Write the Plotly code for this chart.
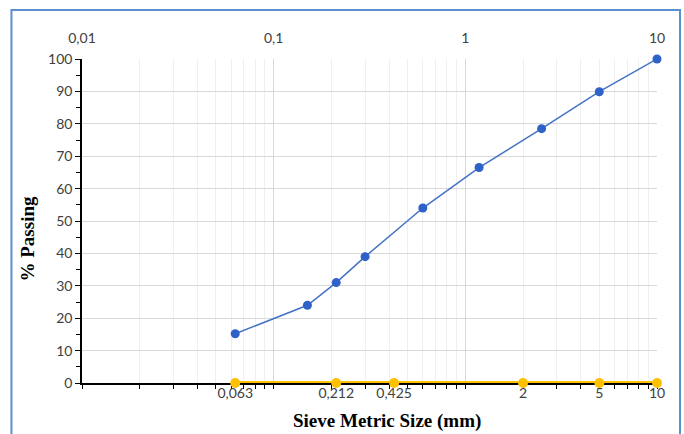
import plotly.graph_objects as go

# Grain-size distribution: sieve opening (mm) vs cumulative percent passing
sieve_mm = [0.063, 0.15, 0.212, 0.3, 0.6, 1.18, 2.5, 5, 10]
passing_pct = [15.2, 24.0, 31.0, 39.0, 54.0, 66.5, 78.5, 89.9, 100]

# Reference sieves marked along the bottom axis
ref_sieves = [0.063, 0.212, 0.425, 2, 5, 10]
ref_labels = ["0,063", "0,212", "0,425", "2", "5", "10"]
ref_zero = [0, 0, 0, 0, 0, 0]

top_ticks = [0.01, 0.1, 1, 10]
top_labels = ["0,01", "0,1", "1", "10"]

tick_font = dict(family="Lato, Open Sans, sans-serif", size=14, color="#404040")
title_font = dict(family="Liberation Serif, Times New Roman, serif", size=19, color="#000000")

fig = go.Figure()

# the line sits on the plot edge, so half of it is clipped; a wider stroke keeps ~2px visible
fig.add_trace(go.Scatter(
    x=ref_sieves, y=ref_zero, mode="lines+markers",
    line=dict(color="#ffc000", width=4),
    marker=dict(color="#ffc000", size=10),
    cliponaxis=False, showlegend=False, xaxis="x", yaxis="y",
))

fig.add_trace(go.Scatter(
    x=sieve_mm, y=passing_pct, mode="lines+markers",
    line=dict(color="#4472c4", width=1.5),
    marker=dict(color="#2f62c8", size=9),
    cliponaxis=False, showlegend=False, xaxis="x", yaxis="y",
))

fig.update_layout(
    width=684, height=434,
    margin=dict(l=82, r=27, t=59, b=51),
    paper_bgcolor="white", plot_bgcolor="white",
    xaxis=dict(
        type="log", range=[-2, 1], dtick="D1",
        showticklabels=False, ticks="outside", ticklen=4, tickcolor="#000000",
        showline=True, linecolor="#000000", linewidth=1.5,
        showgrid=True, gridcolor="#efefef", gridwidth=1, zeroline=False,
        layer="below traces",
    ),
    xaxis2=dict(
        type="log", range=[-2, 1], overlaying="x", side="top",
        tickmode="array", tickvals=top_ticks, ticktext=top_labels,
        ticks="", showline=False, showgrid=True, gridcolor="#d9d9d9",
        tickfont=tick_font, zeroline=False, ticklabelstandoff=12,
        layer="below traces",
    ),
    xaxis3=dict(
        type="log", range=[-2, 1], overlaying="x", side="bottom",
        tickmode="array", tickvals=ref_sieves, ticktext=ref_labels,
        ticks="", showline=False, showgrid=False, zeroline=False,
        tickfont=tick_font, ticklabelstandoff=0,
        layer="below traces",
    ),
    yaxis=dict(
        range=[0, 100], dtick=10, ticks="outside", ticklen=5, tickcolor="#000000",
        minor=dict(dtick=5, ticks="outside", ticklen=4, tickcolor="#000000"),
        showline=True, linecolor="#000000", linewidth=1.5,
        showgrid=True, gridcolor="#d9d9d9", zeroline=False,
        tickfont=tick_font, layer="below traces",
    ),
)

# keep the extra axes visible by attaching an invisible trace to each
for ax in ["x2", "x3"]:
    fig.add_trace(go.Scatter(x=[1], y=[50], xaxis=ax, yaxis="y", mode="markers",
                             marker=dict(opacity=0), hoverinfo="skip", showlegend=False))

fig.add_annotation(text="<b>% Passing</b>", xref="paper", yref="paper",
                   x=-0.095, y=0.444, textangle=-90, showarrow=False,
                   font=title_font, xanchor="center", yanchor="middle")
fig.add_annotation(text="<b>Sieve Metric Size (mm)</b>", xref="paper", yref="paper",
                   x=0.53, y=-0.117, showarrow=False,
                   font=title_font, xanchor="center", yanchor="middle")

# outer frame of the chart
fig.add_shape(type="rect", xref="paper", yref="paper",
              x0=-0.1227, x1=1.040, y0=-0.2, y1=1.151,
              line=dict(color="#5b8fd0", width=2), fillcolor="rgba(0,0,0,0)", layer="below")

fig.write_html("out.html")
